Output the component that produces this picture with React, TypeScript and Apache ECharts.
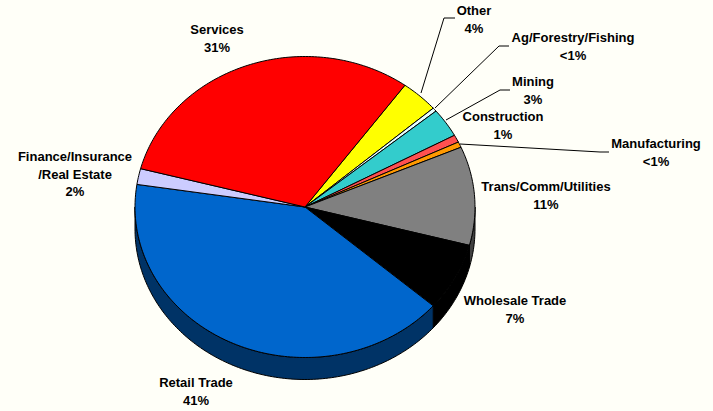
import React, { useEffect, useRef } from "react";
import * as echarts from "echarts";

const categories = ["Other", "Ag/Forestry/Fishing", "Mining", "Construction", "Manufacturing", "Trans/Comm/Utilities", "Wholesale Trade", "Retail Trade", "Finance/Insurance\n/Real Estate", "Services"];
const shares = [3.6, 0.4, 3.1, 0.8, 0.6, 10.6, 7.3, 41, 1.7, 30.9];
const shareLabels = ["4%", "<1%", "3%", "1%", "<1%", "11%", "7%", "41%", "2%", "31%"];

const topColors = ["#FFFF00", "#E8FFFF", "#33CCCC", "#FF5050", "#FF9900", "#808080", "#000000", "#0066CC", "#CCCCFF", "#FF0000"];
const sideColors = ["#808000", "#747F7F", "#196666", "#802828", "#804C00", "#404040", "#000000", "#003366", "#666680", "#800000"];
const labelCentres = [[474, 10], [573, 37], [533, 81], [503, 116], [656, 143], [546, 186], [515, 300], [196, 382], [75, 156], [217, 29]];
const leaders: (number[][] | null)[] = [
  [[421, 93], [444, 18], [455, 18]],
  [[435, 108], [499, 46], [509, 46]],
  [[446, 120], [500, 90], [510, 90]],
  null,
  [[460, 144], [600, 152], [609, 152]],
  null, null, null, null, null,
];

const CX = 305, CY = 207, RX = 170, RY = 150.5, DEPTH = 22, START = 36;
const pt = (deg: number, dy = 0) => {
  const a = (deg * Math.PI) / 180;
  return [CX + RX * Math.sin(a), CY - RY * Math.cos(a) + dy];
};
const arc = (a: number, b: number, dy = 0) => {
  const out: number[][] = [];
  const n = Math.max(2, Math.ceil(Math.abs(b - a)));
  for (let i = 0; i <= n; i++) out.push(pt(a + ((b - a) * i) / n, dy));
  return out;
};
const total = shares.reduce((s, v) => s + v, 0);

const renderItem = (params: any, api: any) => {
  const i = params.dataIndex;
  const before = shares.slice(0, i).reduce((s, v) => s + v, 0);
  const a0 = START + (before / total) * 360;
  const a1 = a0 + (api.value(1) / total) * 360;
  const children: any[] = [];
  const s0 = Math.max(a0, 90), s1 = Math.min(a1, 270);
  if (s1 > s0) {
    children.push({
      type: "polygon",
      shape: { points: [...arc(s0, s1), ...arc(s1, s0, DEPTH)] },
      style: { fill: sideColors[i], stroke: "#000", lineWidth: 1, lineJoin: "round" },
    });
  }
  children.push({
    type: "polygon",
    shape: { points: [[CX, CY], ...arc(a0, a1)] },
    style: { fill: topColors[i], stroke: "#000", lineWidth: 1, lineJoin: "round" },
  });
  return { type: "group", children };
};

export default function App() {
  const ref = useRef<HTMLDivElement>(null);
  useEffect(() => {
    document.body.style.margin = "0";
    const chart = echarts.init(ref.current!, null, { renderer: "svg" });
    const graphics: any[] = [];
    categories.forEach((c, i) => {
      const l = leaders[i];
      if (l) {
        graphics.push({
          type: "polyline",
          shape: { points: l },
          style: { fill: "none", stroke: "#000", lineWidth: 1 },
          z: 5,
        });
      }
      graphics.push({
        type: "text",
        x: labelCentres[i][0],
        y: labelCentres[i][1] - 8,
        z: 6,
        style: {
          text: `${c}\n${shareLabels[i]}`,
          align: "center",
          verticalAlign: "top",
          fontFamily: "Liberation Sans",
          fontWeight: "bold",
          fontSize: 13,
          lineHeight: 17.5,
          fill: "#000",
        },
      });
    });
    chart.setOption({
      animation: false,
      backgroundColor: "#FFFFF8",
      graphic: graphics,
      series: [
        {
          type: "custom",
          coordinateSystem: "none",
          renderItem,
          data: shares.map((v, i) => [i, v]),
          silent: true,
        },
      ],
    });
    return () => chart.dispose();
  }, []);
  return <div ref={ref} style={{ position: "absolute", left: 0, top: 0, width: 713, height: 411 }} />;
}
